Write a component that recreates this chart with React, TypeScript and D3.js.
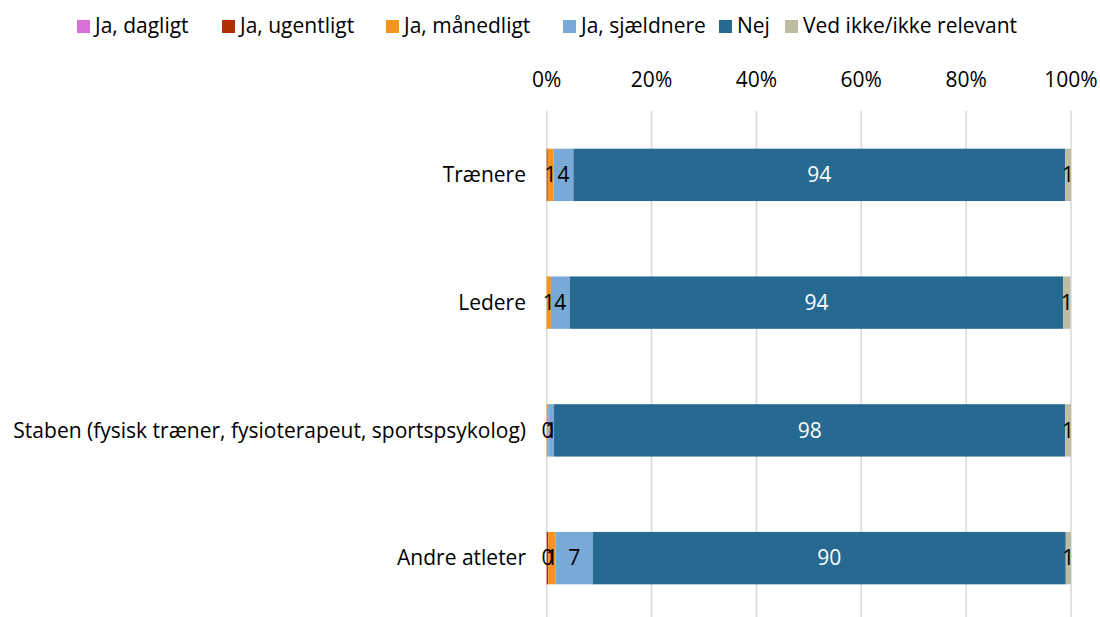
import React from 'react';
import { scaleLinear, scaleBand, stack } from 'd3';

const categories = [
  'Trænere',
  'Ledere',
  'Staben (fysisk træner, fysioterapeut, sportspsykolog)',
  'Andre atleter',
];

const seriesNames = ['Ja, dagligt', 'Ja, ugentligt', 'Ja, månedligt', 'Ja, sjældnere', 'Nej', 'Ved ikke/ikke relevant'];
const seriesColors = ['#DA6FD5', '#B02E00', '#F7941E', '#79A9D7', '#266991', '#BDBCA3'];

// percent per category, one array per series
const dagligt = [0, 0, 0, 0];
const ugentligt = [0.2, 0, 0, 0.3];
const maanedligt = [1.1, 0.8, 0.3, 1.4];
const sjaeldnere = [3.8, 3.6, 1.1, 7.1];
const nej = [93.8, 94.1, 97.5, 90.2];
const vedIkke = [1.1, 1.4, 1.1, 1.0];

const tickValues = [0, 20, 40, 60, 80, 100];

const W = 1100;
const H = 617;
const font = '"Open Sans", sans-serif';
const fs = 21;

const rows = categories.map((c, i) => ({
  cat: c,
  s0: dagligt[i],
  s1: ugentligt[i],
  s2: maanedligt[i],
  s3: sjaeldnere[i],
  s4: nej[i],
  s5: vedIkke[i],
}));
const keys = ['s0', 's1', 's2', 's3', 's4', 's5'];

// legend x positions (square left edge)
const legendX = [77, 222, 386, 563, 719, 785];

export default function App() {
  const x = scaleLinear().domain([0, 100]).range([546.7, 1071]);
  const y = scaleBand<string>()
    .domain(categories)
    .range([111, 622])
    .paddingInner(0.59)
    .paddingOuter(0.295);

  const layers = stack<any>().keys(keys)(rows);

  return (
    <svg width={W} height={H} style={{ position: 'absolute', left: 0, top: 0 }}>
      <g fontFamily={font} fontSize={fs}>
        {/* legend */}
        {seriesNames.map((n, i) => (
          <g key={n} transform={`translate(${legendX[i]},0)`}>
            <rect x={0} y={20} width={13} height={13} fill={seriesColors[i]} />
            <text x={18} y={33} fill="#000">{n}</text>
          </g>
        ))}

        {/* grid */}
        {tickValues.map(t => (
          <g key={t}>
            <line x1={x(t)} x2={x(t)} y1={111} y2={H} stroke="#d9d9d9" strokeWidth={1.5} />
            <text x={x(t)} y={87} textAnchor="middle" fill="#000">{t}%</text>
          </g>
        ))}

        {/* bars */}
        {layers.map((layer, li) => (
          <g key={layer.key} fill={seriesColors[li]}>
            {layer.map((d, i) => (
              <rect
                key={i}
                x={x(d[0])}
                y={y(categories[i])}
                width={Math.max(0, x(d[1]) - x(d[0]))}
                height={y.bandwidth()}
              />
            ))}
          </g>
        ))}

        {/* bar labels */}
        {layers.map((layer, li) => (
          <g key={'l' + layer.key}>
            {layer.map((d, i) => {
              const v = d[1] - d[0];
              if (v < 0.25) return null;
              return (
                <text
                  key={i}
                  x={x((d[0] + d[1]) / 2)}
                  y={(y(categories[i]) as number) + y.bandwidth() / 2}
                  dy="0.35em"
                  textAnchor="middle"
                  fill={li === 4 ? '#fff' : '#000'}
                >
                  {Math.round(v)}
                </text>
              );
            })}
          </g>
        ))}

        {/* category labels */}
        {categories.map(c => (
          <text
            key={c}
            x={526}
            y={(y(c) as number) + y.bandwidth() / 2}
            dy="0.35em"
            textAnchor="end"
            fill="#000"
          >
            {c}
          </text>
        ))}
      </g>
    </svg>
  );
}
